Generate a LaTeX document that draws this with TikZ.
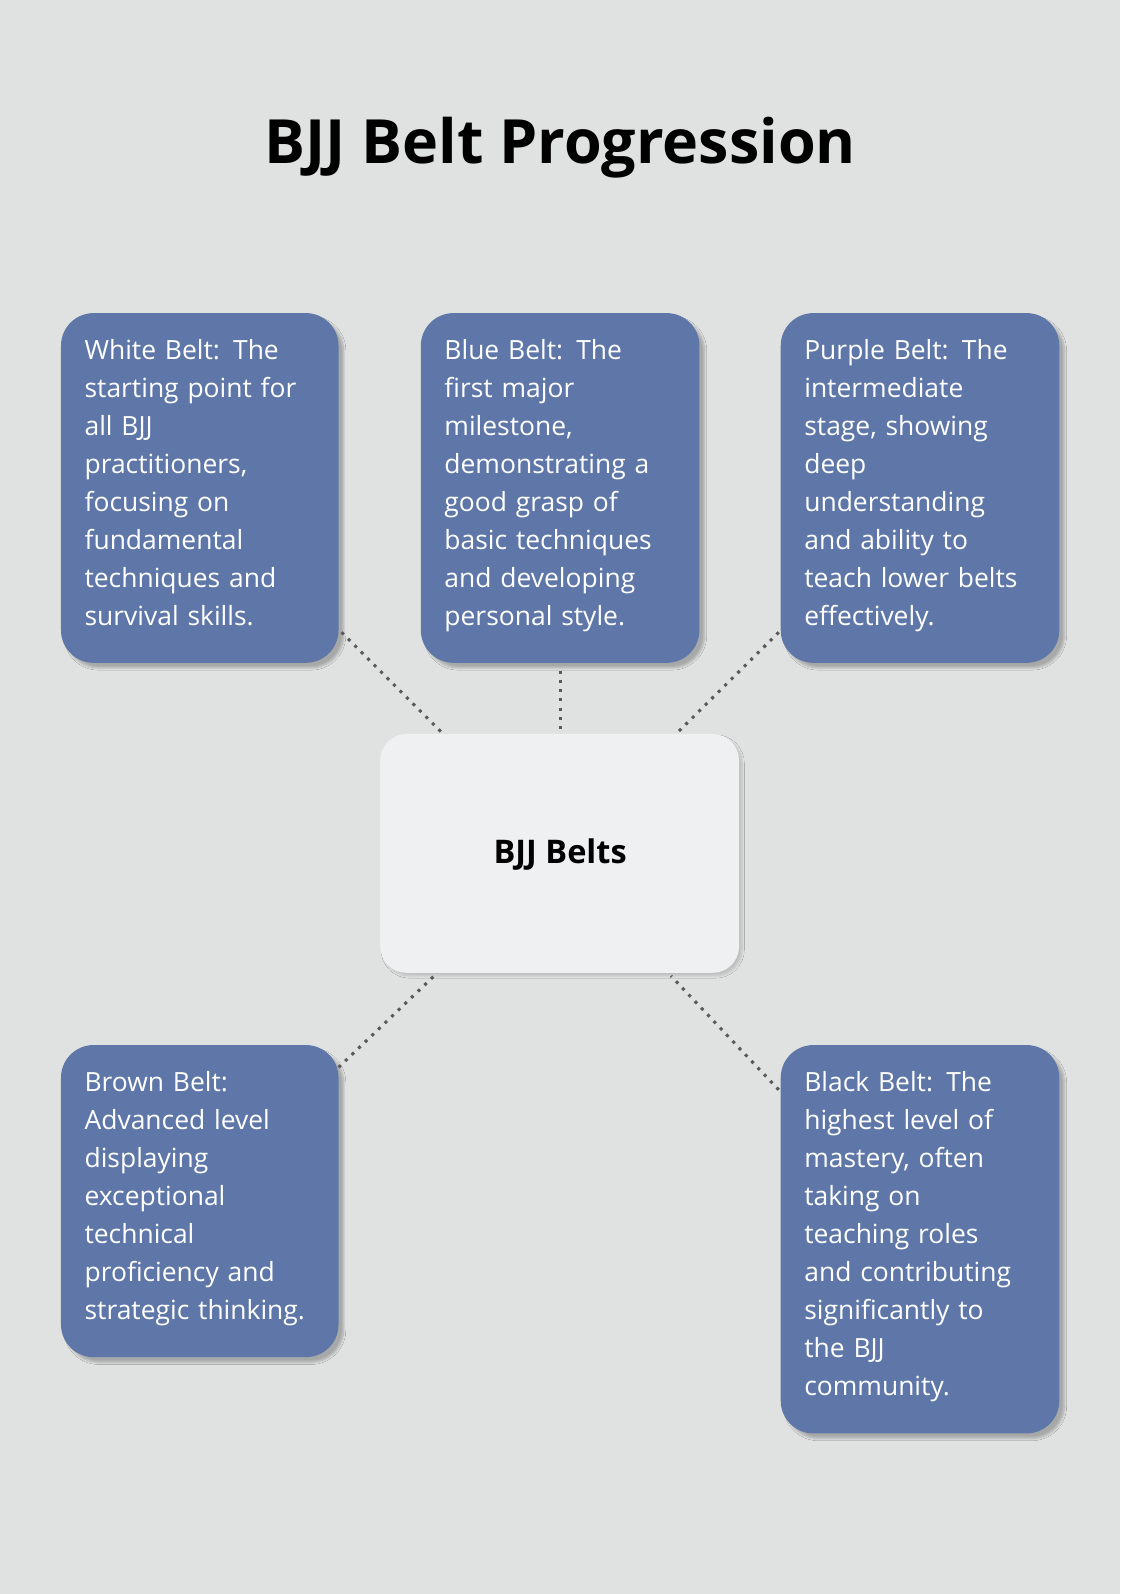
\documentclass[tikz,border=0pt]{standalone}
\usepackage{fontspec}
\setmainfont{Open Sans}
\usetikzlibrary{shadows.blur,calc}
\definecolor{bg}{HTML}{E0E2E1}
\definecolor{belt}{HTML}{5E77A8}
\definecolor{centerc}{HTML}{EFF0F2}
\tikzset{
  beltbox/.style={fill=belt,rounded corners=32pt,blur shadow={shadow xshift=5pt,shadow yshift=-5pt,shadow blur steps=8,shadow opacity=25}},
  belttext/.style={anchor=north west,inner sep=0pt,text width=240pt,align=left,text=white,font=\fontsize{26}{37.3}\selectfont},
  conn/.style={draw=black!65,line width=3pt,dash pattern=on 3pt off 6pt}
}
\begin{document}
\begin{tikzpicture}[x=1pt,y=-1pt]
\fill[bg] (0,0) rectangle (1102,1568);
\useasboundingbox (0,0) rectangle (1102,1568);
\node at (551,145) {\fontsize{60}{70}\selectfont\bfseries BJJ Belt Progression};
% boxes
\path[beltbox] (60,308) rectangle (333,652);
\path[beltbox] (414,308) rectangle (688,652);
\path[beltbox] (768,308) rectangle (1042,652);
\path[beltbox] (60,1028) rectangle (333,1335);
\path[beltbox] (768,1028) rectangle (1042,1410);
\path[fill=centerc,rounded corners=26pt,blur shadow={shadow xshift=3pt,shadow yshift=-3pt,shadow blur steps=8,shadow opacity=15}] (374,722) rectangle (727,957);
\node (center) at (551,841) {\fontsize{32}{38}\selectfont\bfseries BJJ Belts};
\coordinate (wE) at (336,622); \coordinate (wC) at (434,720);
\coordinate (bE) at (551,660); \coordinate (bC) at (551,718);
\coordinate (pE) at (766,622); \coordinate (pC) at (667,720);
\coordinate (brE) at (333,1050); \coordinate (brC) at (427,960);
\coordinate (blE) at (766,1072); \coordinate (blC) at (660,960);
\draw[conn] (wE) -- (wC);
\draw[conn] (bE) -- (bC);
\draw[conn] (pE) -- (pC);
\draw[conn] (brE) -- (brC);
\draw[conn] (blE) -- (blC);
\node[belttext] (white) at (83,334) {White Belt: The\\starting point for\\all BJJ\\practitioners,\\focusing on\\fundamental\\techniques and\\survival skills.};
\node[belttext] (blue) at (437,334) {Blue Belt: The\\first major\\milestone,\\demonstrating a\\good grasp of\\basic techniques\\and developing\\personal style.};
\node[belttext] (purple) at (791,334) {Purple Belt: The\\intermediate\\stage, showing\\deep\\understanding\\and ability to\\teach lower belts\\effectively.};
\node[belttext] (brown) at (83,1054) {Brown Belt:\\Advanced level\\displaying\\exceptional\\technical\\proficiency and\\strategic thinking.};
\node[belttext] (black) at (791,1054) {Black Belt: The\\highest level of\\mastery, often\\taking on\\teaching roles\\and contributing\\significantly to\\the BJJ\\community.};
\end{tikzpicture}
\end{document}
